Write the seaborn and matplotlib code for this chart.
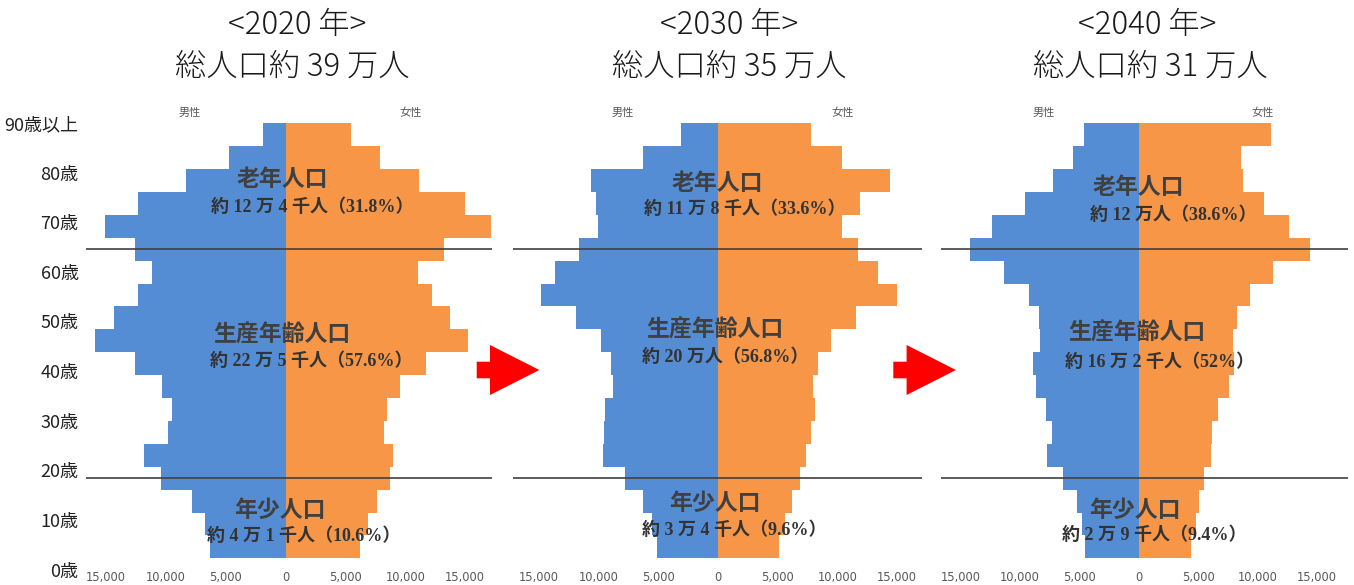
import matplotlib
matplotlib.use('Agg')
import matplotlib.pyplot as plt
from matplotlib.patches import Polygon
import seaborn as sns
import pandas as pd

# age bins, youngest first
age_groups = ['0-4', '5-9', '10-14', '15-19', '20-24', '25-29', '30-34', '35-39',
              '40-44', '45-49', '50-54', '55-59', '60-64', '65-69', '70-74',
              '75-79', '80-84', '85-89', '90+']
years = ['2020', '2030', '2040']

male_2020 = [6300, 6700, 7800, 10400, 11800, 9800, 9500, 10300, 12600, 15900,
             14300, 12300, 11200, 12600, 15100, 12300, 8300, 4700, 1850]
female_2020 = [6200, 6900, 7600, 8700, 9000, 8200, 8500, 9600, 11700, 15200,
               13700, 12200, 11100, 13200, 17200, 14950, 11150, 7900, 5450]
male_2030 = [5100, 5500, 6250, 7800, 9600, 9550, 9400, 8750, 8900, 9800,
             11900, 14800, 13600, 11600, 10000, 10200, 10600, 6300, 3100]
female_2030 = [5100, 5600, 6250, 6900, 7400, 7800, 8100, 8000, 8400, 9500,
               11600, 15000, 13400, 11700, 10400, 11900, 14400, 10400, 7800]
male_2040 = [4500, 4800, 5150, 6350, 7700, 7300, 7800, 8600, 8900, 8300,
             8400, 9200, 11300, 14200, 12300, 9600, 7200, 5550, 4600]
female_2040 = [4400, 4800, 5100, 5450, 6050, 6200, 6700, 7600, 8050, 7900,
               8300, 9400, 11300, 14400, 12600, 10500, 8800, 8600, 11100]

titles = ['<2020 年>', '<2030 年>', '<2040 年>']
totals = ['総人口約 39 万人', '総人口約 35 万人', '総人口約 31 万人']
section_names = ['老年人口', '生産年齢人口', '年少人口']
section_notes = [
    ['約 12 万 4 千人（31.8%）', '約 22 万 5 千人（57.6%）', '約 4 万 1 千人（10.6%）'],
    ['約 11 万 8 千人（33.6%）', '約 20 万人（56.8%）', '約 3 万 4 千人（9.6%）'],
    ['約 12 万人（38.6%）', '約 16 万 2 千人（52%）', '約 2 万 9 千人（9.4%）'],
]
y_labels = ['0歳', '10歳', '20歳', '30歳', '40歳', '50歳', '60歳', '70歳', '80歳', '90歳以上']
x_ticks = [-15000, -10000, -5000, 0, 5000, 10000, 15000]

male = [male_2020, male_2030, male_2040]
female = [female_2020, female_2030, female_2040]

BLUE = '#548DD4'
ORANGE = '#F79646'
W, H = 1354, 585

sns.set_theme(style='white')
plt.rcParams['font.family'] = ['Noto Sans CJK JP', 'DejaVu Sans']

fig = plt.figure(figsize=(W / 100, H / 100), dpi=100)

# panel placement in pixels: (left, right) and x limits
panel_px = [(86, 492), (513, 922), (941, 1348)]
panel_xlim = [(-16675, 17245), (-17140, 17090), (-16625, 17600)]
ax_top, ax_bottom = 123.3, 558.3
order = age_groups[::-1]  # oldest on top

# text positions in pixels (name x, name y, note x, note y) per section
text_px = [
    [(282, 180, 312, 207), (282, 335, 311, 361), (280, 510, 304, 536)],
    [(717, 183, 745, 209), (715, 330, 725, 357), (715, 503, 734, 530)],
    [(1138, 188, 1173, 215), (1137, 333, 1160, 362), (1135, 510, 1154, 535)],
]
title_px = [(297, 292), (729, 729), (1147, 1150)]

for i, yr in enumerate(years):
    df = pd.DataFrame({
        'age': age_groups * 2,
        'value': [-v for v in male[i]] + female[i],
        'sex': ['男性'] * len(age_groups) + ['女性'] * len(age_groups),
    })
    l, r = panel_px[i]
    ax = fig.add_axes([l / W, (H - ax_bottom) / H, (r - l) / W, (ax_bottom - ax_top) / H])
    sns.barplot(data=df, x='value', y='age', hue='sex', order=order,
                hue_order=['男性', '女性'], palette=[BLUE, ORANGE], dodge=False,
                width=1.0, saturation=1, errorbar=None, legend=False,
                linewidth=0, ax=ax)
    ax.set_xlim(*panel_xlim[i])
    ax.set_ylim(len(order) - 0.5, -0.5)
    ax.axhline(order.index('65-69'), color='#404040', lw=1.2, zorder=5)
    ax.axhline(order.index('15-19'), color='#404040', lw=1.2, zorder=5)
    ax.set_xticks(x_ticks)
    ax.set_xticklabels([f'{abs(t):,}' for t in x_ticks], family='DejaVu Sans',
                       fontsize=8.3, color='#595959')
    ax.tick_params(axis='x', length=0, pad=9)
    ax.set_yticks([])
    ax.set_xlabel('')
    ax.set_ylabel('')
    for s in ax.spines.values():
        s.set_visible(False)
    ax.text(-8000, -0.95, '男性', ha='center', va='center', fontsize=8,
            color='#595959', clip_on=False)
    ax.text(10400, -0.95, '女性', ha='center', va='center', fontsize=8,
            color='#595959', clip_on=False)

    for (nx, ny, sx, sy), name, note in zip(text_px[i], section_names, section_notes[i]):
        fig.text(nx / W, 1 - ny / H, name, ha='center', va='center', fontsize=16.5,
                 fontweight='bold', color='#404040', zorder=10)
        fig.text(sx / W, 1 - sy / H, note, ha='center', va='center', fontsize=13,
                 fontweight='bold', color='#333333',
                 family=['Liberation Serif', 'Noto Sans CJK JP'], zorder=10)

    tx1, tx2 = title_px[i]
    fig.text(tx1 / W, 1 - 25 / H, titles[i], ha='center', va='center',
             fontsize=22.5, fontweight='light', color='#1a1a1a')
    fig.text(tx2 / W, 1 - 66.5 / H, totals[i], ha='center', va='center',
             fontsize=22.5, fontweight='light', color='#1a1a1a')

# age labels on the far left
lab = fig.add_axes([80 / W, 15.5 / H, 0.0005, 446.5 / H])
lab.set_ylim(0, 90)
lab.set_yticks(range(0, 100, 10))
lab.set_yticklabels(y_labels, fontsize=13, color='#222222')
lab.tick_params(axis='y', length=0, pad=1)
lab.set_xticks([])
for s in lab.spines.values():
    s.set_visible(False)
lab.patch.set_visible(False)

# red arrows between panels
for x0 in (476.7, 893.3):
    pts = [(x0, 361.7), (x0 + 13.3, 361.7), (x0 + 13.3, 345), (x0 + 62.6, 370),
           (x0 + 13.3, 395), (x0 + 13.3, 378.3), (x0, 378.3)]
    fig.patches.append(Polygon([(x / W, 1 - y / H) for x, y in pts], closed=True,
                               transform=fig.transFigure, facecolor='#FF0000',
                               edgecolor='none', zorder=3))

fig.savefig('out.png', dpi=100)
